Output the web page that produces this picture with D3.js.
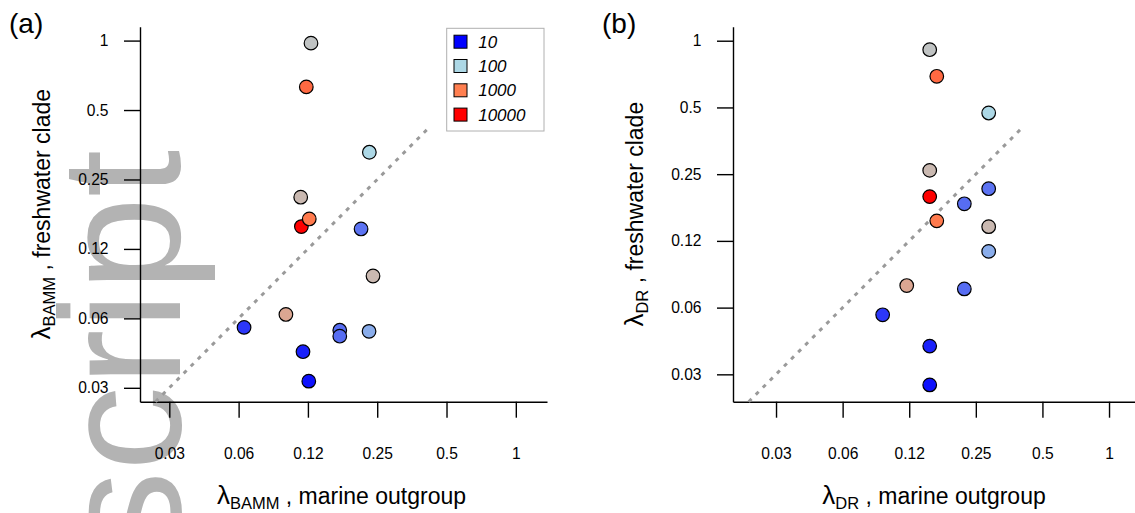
<!DOCTYPE html>
<html>
<head>
<meta charset="utf-8">
<script src="https://cdn.jsdelivr.net/npm/d3@7"></script>
<style>
  body { margin: 0; background: #fff; }
  svg text { font-family: "Liberation Sans", Arial, sans-serif; }
</style>
</head>
<body>
<svg id="chart" width="1135" height="513"></svg>
<script>
// clade richness drives the point colour (same clades in both panels)
const richness = [170, 1500, 100, 224, 224, 10000, 1100, 34, 32, 32, 363, 18, 63, 14, 12];

// panel (a): BAMM rates
const bammMarine = [0.1289, 0.1230, 0.2311, 0.1163, 0.2397, 0.1171, 0.1267, 0.2127, 0.1719, 0.1719, 0.1003, 0.0660, 0.2304, 0.1190, 0.1261];
const bammFresh  = [0.975, 0.630, 0.328, 0.2095, 0.0954, 0.1562, 0.1686, 0.1526, 0.0555, 0.0523, 0.0650, 0.0571, 0.0549, 0.0448, 0.0334];

// panel (b): DR rates
const drMarine = [0.1547, 0.1665, 0.2858, 0.1547, 0.2858, 0.1547, 0.1665, 0.2858, 0.2218, 0.2218, 0.1218, 0.0948, 0.2858, 0.1547, 0.1547];
const drFresh  = [0.911, 0.691, 0.472, 0.260, 0.1449, 0.198, 0.1539, 0.215, 0.1838, 0.0759, 0.0786, 0.0580, 0.1121, 0.0419, 0.0280];

const tickValues = [1 / 32, 1 / 16, 1 / 8, 1 / 4, 1 / 2, 1];
const tickLabels = ["0.03", "0.06", "0.12", "0.25", "0.5", "1"];

const legendValues = [10, 100, 1000, 10000];
const legendLabels = ["10", "100", "1000", "10000"];
const legendColors = ["#0000ff", "#add8e6", "#ff7f50", "#ff0000"];

// upper end of the 1:1 reference line
const oneToOneTop = 0.41;

const color = d3.scaleLog().domain(legendValues).range(legendColors).interpolate(d3.interpolateRgb);

const svg = d3.select("#chart");

// faint watermark behind everything
svg.append("text")
    .attr("transform", "translate(180,556) rotate(-90)")
    .attr("font-size", 170)
    .attr("fill", "#b3b3b3")
    .text("script");

const panels = [
    {
        tag: "(a)", tagX: 9, sub: "BAMM",
        xs: bammMarine, ys: bammFresh,
        xRange: [140, 547], xLog: [-5.423, 0.45],
        yLog: [-5.2, 0.2], legend: true
    },
    {
        tag: "(b)", tagX: 602, sub: "DR",
        xs: drMarine, ys: drFresh,
        xRange: [733, 1139], xLog: [-5.646, 0.45],
        yLog: [-5.41, 0.21], legend: false
    }
];

const PLOT_TOP = 26.7, PLOT_BOTTOM = 401.7;
const TICK_LEN = 16;

// lambda with a subscript, then the rest of the title
function lambdaTitle(sel, sub, rest) {
    sel.append("tspan").attr("font-size", 26).text("λ");
    sel.append("tspan").attr("font-size", 16.5).attr("dy", 5).text(sub);
    sel.append("tspan").attr("dy", -5).text(rest);
}

panels.forEach(p => {
    const x = d3.scaleLog().base(2).domain(p.xLog.map(v => Math.pow(2, v))).range(p.xRange);
    const y = d3.scaleLog().base(2).domain(p.yLog.map(v => Math.pow(2, v))).range([PLOT_BOTTOM, PLOT_TOP]);
    const left = p.xRange[0];
    const g = svg.append("g");

    // axes
    const yAxis = g.append("g")
        .attr("transform", `translate(${left},0)`)
        .call(d3.axisLeft(y).tickValues(tickValues).tickFormat((d, i) => tickLabels[i])
            .tickSize(TICK_LEN).tickSizeOuter(0).tickPadding(15.5));
    const xAxis = g.append("g")
        .attr("transform", `translate(0,${PLOT_BOTTOM})`)
        .call(d3.axisBottom(x).tickValues(tickValues).tickFormat((d, i) => tickLabels[i])
            .tickSize(TICK_LEN).tickSizeOuter(0).tickPadding(30));
    [xAxis, yAxis].forEach(a => {
        a.select(".domain").attr("stroke", "#000").attr("stroke-width", 1.4);
        a.selectAll(".tick line").attr("stroke", "#000").attr("stroke-width", 1.4);
        a.selectAll(".tick text").attr("font-size", 15.6).attr("fill", "#000")
            .attr("font-family", "Liberation Sans, Arial, sans-serif");
    });

    // 1:1 line
    const lo = y.domain()[0];
    g.append("line")
        .attr("x1", x(lo)).attr("y1", y(lo))
        .attr("x2", x(oneToOneTop)).attr("y2", y(oneToOneTop))
        .attr("stroke", "#9a9a9a")
        .attr("stroke-width", 3)
        .attr("stroke-dasharray", "4,6");

    // points
    g.selectAll("circle.pt")
        .data(p.xs.map((v, i) => ({ x: v, y: p.ys[i], n: richness[i] })))
        .join("circle")
        .attr("class", "pt")
        .attr("cx", d => x(d.x))
        .attr("cy", d => y(d.y))
        .attr("r", 6.8)
        .attr("fill", d => color(d.n))
        .attr("stroke", "#000")
        .attr("stroke-width", 1.2);

    // panel tag
    g.append("text")
        .attr("x", p.tagX).attr("y", 33)
        .attr("font-size", 28)
        .text(p.tag);

    // x title
    const cx = (p.xRange[0] + p.xRange[1]) / 2;
    const xt = g.append("text")
        .attr("x", cx - 2).attr("y", 504)
        .attr("text-anchor", "middle")
        .attr("font-size", 23);
    lambdaTitle(xt, p.sub, " , marine outgroup");

    // y title
    const cy = (PLOT_TOP + PLOT_BOTTOM) / 2;
    const yt = g.append("text")
        .attr("transform", `translate(${left - 90},${cy}) rotate(-90)`)
        .attr("text-anchor", "middle")
        .attr("font-size", 23);
    lambdaTitle(yt, p.sub, " , freshwater clade");

    // legend
    if (p.legend) {
        const lg = g.append("g").attr("transform", "translate(446.7,28.3)");
        lg.append("rect")
            .attr("width", 97.3).attr("height", 102.7)
            .attr("fill", "#fff")
            .attr("stroke", "#b0b0b0")
            .attr("stroke-width", 1);
        const rows = lg.selectAll("g.row")
            .data(legendValues)
            .join("g")
            .attr("class", "row")
            .attr("transform", (d, i) => `translate(0,${13.4 + i * 24.3})`);
        rows.append("rect")
            .attr("x", 7.3).attr("y", -6.5)
            .attr("width", 13).attr("height", 13)
            .attr("fill", d => color(d))
            .attr("stroke", "#000")
            .attr("stroke-width", 1);
        rows.append("text")
            .attr("x", 31.5).attr("dy", "0.35em")
            .attr("font-size", 17)
            .attr("font-style", "italic")
            .text((d, i) => legendLabels[i]);
    }
});
</script>
</body>
</html>
